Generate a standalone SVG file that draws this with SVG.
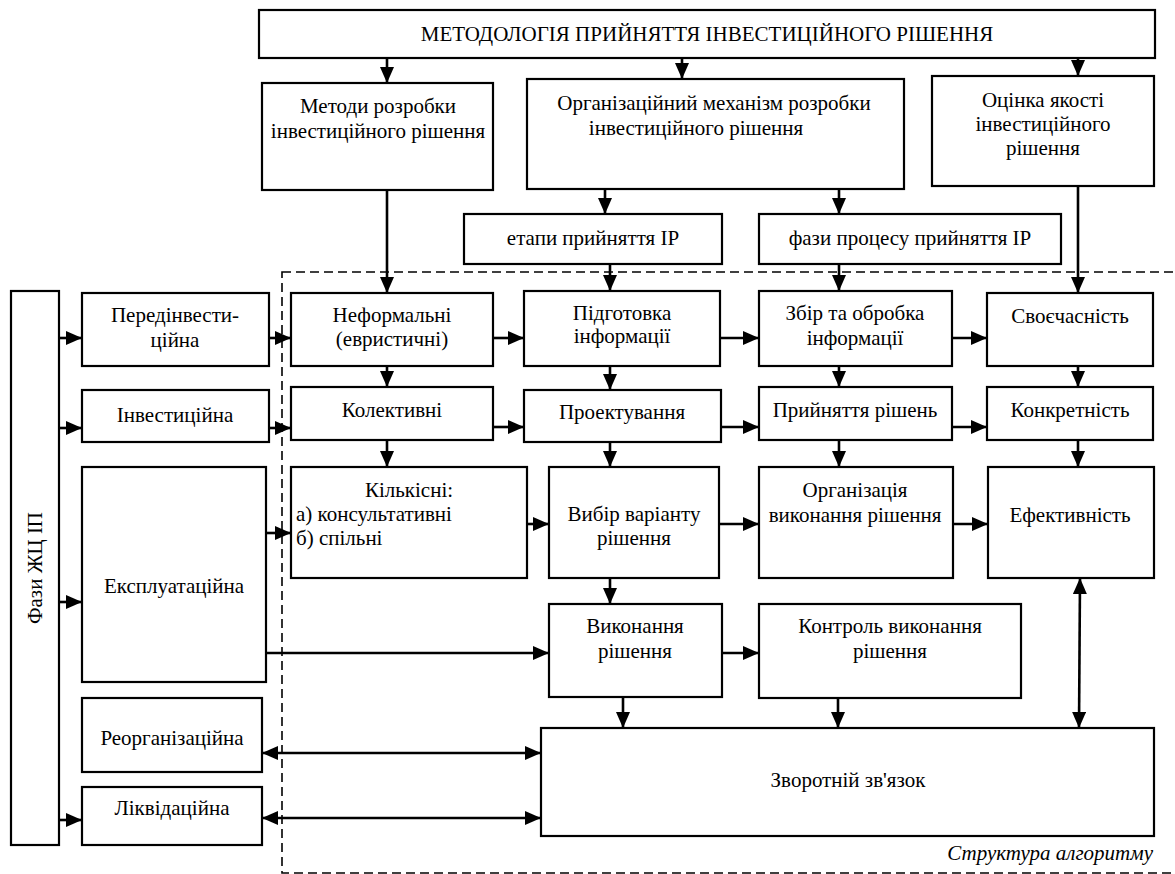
<svg xmlns="http://www.w3.org/2000/svg" width="1175" height="874" viewBox="0 0 1175 874">
<defs>
<marker id="ah" markerUnits="userSpaceOnUse" markerWidth="16" markerHeight="14" refX="16" refY="7" orient="auto-start-reverse">
<path d="M0,0 L16,7 L0,14 z" fill="#000"/>
</marker>
</defs>
<rect x="282" y="272" width="900" height="601" fill="none" stroke="#000" stroke-width="1.6" stroke-dasharray="9,5"/>
<g fill="#fff" stroke="#000" stroke-width="2.2">
<g id="title"><rect x="259" y="10" width="896" height="48"/></g>
<g id="methods"><rect x="262" y="83" width="231" height="107"/></g>
<g id="orgmech"><rect x="527" y="79" width="377" height="110"/></g>
<g id="quality"><rect x="932" y="76" width="222" height="110"/></g>
<g id="stages"><rect x="464" y="214" width="258" height="50"/></g>
<g id="phases"><rect x="759" y="214" width="302" height="50"/></g>
<g id="lifecycle"><rect x="11" y="291" width="48" height="554"/></g>
<g id="preinv"><rect x="82" y="293" width="187" height="73"/></g>
<g id="inv"><rect x="82" y="390" width="187" height="52"/></g>
<g id="expl"><rect x="82" y="467" width="184" height="215"/></g>
<g id="reorg"><rect x="82" y="698" width="180" height="74"/></g>
<g id="liq"><rect x="82" y="787" width="180" height="58"/></g>
<g id="informal"><rect x="291" y="293" width="202" height="73"/></g>
<g id="collective"><rect x="291" y="387" width="202" height="53"/></g>
<g id="quant"><rect x="291" y="467" width="236" height="111"/></g>
<g id="prep"><rect x="524" y="291" width="196" height="75"/></g>
<g id="design"><rect x="524" y="390" width="197" height="52"/></g>
<g id="choice"><rect x="549" y="467" width="170" height="111"/></g>
<g id="collect"><rect x="759" y="291" width="193" height="75"/></g>
<g id="decide"><rect x="759" y="387" width="193" height="53"/></g>
<g id="organize"><rect x="759" y="467" width="194" height="111"/></g>
<g id="timely"><rect x="987" y="293" width="166" height="73"/></g>
<g id="concrete"><rect x="987" y="387" width="166" height="53"/></g>
<g id="effect"><rect x="988" y="467" width="166" height="111"/></g>
<g id="execute"><rect x="549" y="604" width="173" height="93"/></g>
<g id="control"><rect x="759" y="604" width="262" height="94"/></g>
<g id="feedback"><rect x="541" y="728" width="613" height="108"/></g>
</g>
<g id="labels" font-family="Liberation Serif" font-size="21" fill="#000" text-anchor="middle">
<text x="707" y="41">МЕТОДОЛОГІЯ ПРИЙНЯТТЯ ІНВЕСТИЦІЙНОГО РІШЕННЯ</text>
<text x="378" y="113">Методи розробки</text>
<text x="378" y="138">інвестиційного рішення</text>
<text x="714" y="110">Організаційний механізм розробки</text>
<text x="696" y="135">інвестиційного рішення</text>
<text x="1043" y="107">Оцінка якості</text>
<text x="1043" y="131">інвестиційного</text>
<text x="1043" y="155">рішення</text>
<text x="593" y="245">етапи прийняття ІР</text>
<text x="910" y="245">фази процесу прийняття ІР</text>
<text transform="translate(42,568) rotate(-90)">Фази ЖЦ ІП</text>
<text x="175" y="322">Передінвести-</text>
<text x="175" y="347">ційна</text>
<text x="175" y="422">Інвестиційна</text>
<text x="174" y="593">Експлуатаційна</text>
<text x="172" y="745">Реорганізаційна</text>
<text x="172" y="815">Ліквідаційна</text>
<text x="392" y="322">Неформальні</text>
<text x="392" y="346">(евристичні)</text>
<text x="392" y="417">Колективні</text>
<text x="409" y="497">Кількісні:</text>
<text x="296" y="521" text-anchor="start">а) консультативні</text>
<text x="296" y="545" text-anchor="start">б) спільні</text>
<text x="622" y="320">Підготовка</text>
<text x="622" y="343">інформації</text>
<text x="622" y="419">Проектування</text>
<text x="634" y="521">Вибір варіанту</text>
<text x="634" y="545">рішення</text>
<text x="855" y="320">Збір та обробка</text>
<text x="855" y="345">інформації</text>
<text x="855" y="417">Прийняття рішень</text>
<text x="855" y="497">Організація</text>
<text x="855" y="522">виконання рішення</text>
<text x="1070" y="323">Своєчасність</text>
<text x="1070" y="417">Конкретність</text>
<text x="1070" y="522">Ефективність</text>
<text x="635" y="633">Виконання</text>
<text x="635" y="658">рішення</text>
<text x="890" y="633">Контроль виконання</text>
<text x="890" y="658">рішення</text>
<text x="848" y="787">Зворотній зв'язок</text>
<text x="1153" y="860" text-anchor="end" font-style="italic">Структура алгоритму</text>
</g>
<g id="connectors" stroke="#000" stroke-width="2.6" marker-end="url(#ah)">
<line x1="387" y1="58" x2="387" y2="83"/>
<line x1="682" y1="58" x2="682" y2="79"/>
<line x1="1078" y1="58" x2="1078" y2="76"/>
<line x1="387" y1="190" x2="387" y2="293"/>
<line x1="605" y1="189" x2="605" y2="214"/>
<line x1="839" y1="189" x2="839" y2="214"/>
<line x1="610" y1="264" x2="610" y2="291"/>
<line x1="839" y1="264" x2="839" y2="291"/>
<line x1="1078" y1="186" x2="1078" y2="293"/>
<line x1="387" y1="366" x2="387" y2="387"/>
<line x1="387" y1="440" x2="387" y2="467"/>
<line x1="610" y1="366" x2="610" y2="390"/>
<line x1="610" y1="442" x2="610" y2="467"/>
<line x1="610" y1="578" x2="610" y2="604"/>
<line x1="839" y1="366" x2="839" y2="387"/>
<line x1="839" y1="440" x2="839" y2="467"/>
<line x1="1078" y1="366" x2="1078" y2="387"/>
<line x1="1078" y1="440" x2="1078" y2="467"/>
<line x1="493" y1="338" x2="524" y2="338"/>
<line x1="493" y1="427" x2="524" y2="427"/>
<line x1="527" y1="524" x2="549" y2="524"/>
<line x1="720" y1="338" x2="759" y2="338"/>
<line x1="721" y1="427" x2="759" y2="427"/>
<line x1="719" y1="524" x2="759" y2="524"/>
<line x1="952" y1="338" x2="987" y2="338"/>
<line x1="952" y1="427" x2="987" y2="427"/>
<line x1="953" y1="524" x2="988" y2="524"/>
<line x1="59" y1="338" x2="82" y2="338"/>
<line x1="59" y1="428" x2="82" y2="428"/>
<line x1="59" y1="602" x2="82" y2="602"/>
<line x1="59" y1="820" x2="82" y2="820"/>
<line x1="269" y1="338" x2="291" y2="338"/>
<line x1="269" y1="428" x2="291" y2="428"/>
<line x1="266" y1="533" x2="291" y2="533"/>
<line x1="266" y1="653" x2="549" y2="653"/>
<line x1="722" y1="653" x2="759" y2="653"/>
<line x1="623" y1="697" x2="623" y2="728"/>
<line x1="838" y1="698" x2="838" y2="728"/>
<line x1="1080" y1="578" x2="1079" y2="728" marker-start="url(#ah)"/>
<line x1="262" y1="753" x2="541" y2="753" marker-start="url(#ah)"/>
<line x1="262" y1="818" x2="541" y2="818" marker-start="url(#ah)"/>
</g>
</svg>
